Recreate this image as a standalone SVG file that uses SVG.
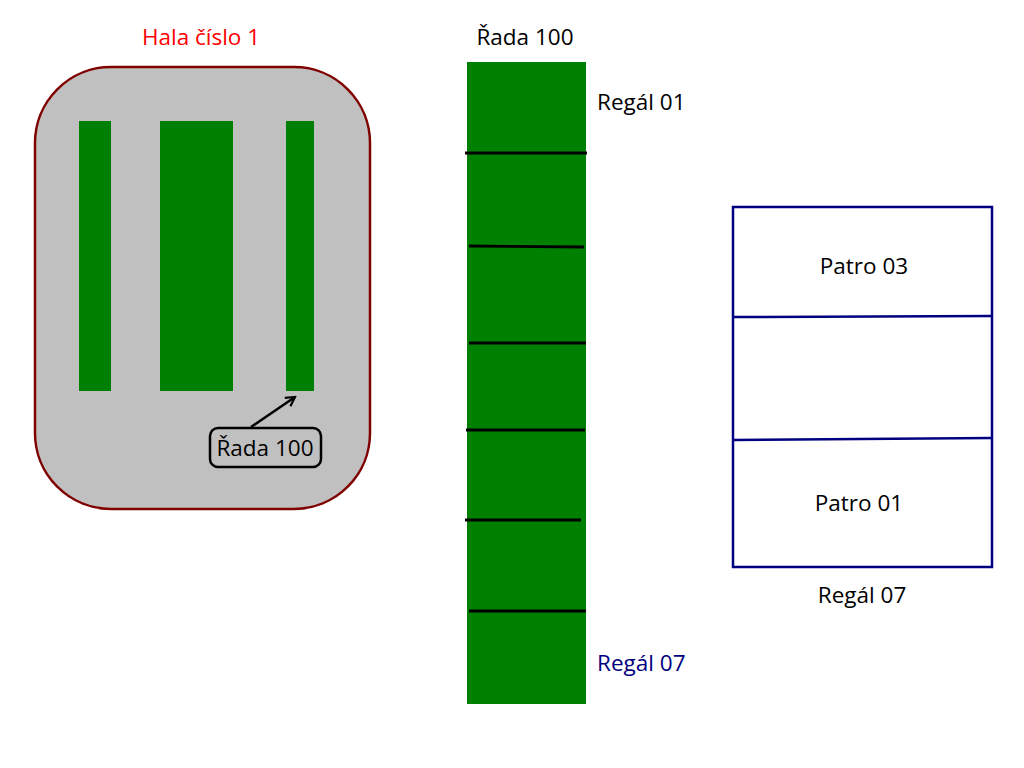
<svg xmlns="http://www.w3.org/2000/svg" width="1024" height="768" viewBox="0 0 1024 768">
<defs>
<style>
text{font-family:"Open Sans","Noto Sans","DejaVu Sans",sans-serif;font-size:22.5px;fill:#000}
.g{fill:#008000}
.sep{stroke:#000;stroke-width:2.8;fill:none}
.blue{stroke:#000080;stroke-width:2.5;fill:none}
</style>
<marker id="ah" viewBox="0 0 12 12" refX="10" refY="6" markerWidth="12" markerHeight="12" markerUnits="userSpaceOnUse" orient="auto">
<path d="M1,1 L10,6 L1,11" fill="none" stroke="#000" stroke-width="2.2"/>
</marker>
</defs>
<rect width="1024" height="768" fill="#fff"/>
<g id="hall">
<text x="201" y="45" text-anchor="middle" style="fill:#ff0000">Hala číslo 1</text>
<rect x="35" y="67" width="335" height="442" rx="76" ry="76" fill="#c0c0c0" stroke="#800000" stroke-width="2.5"/>
<rect class="g" x="79" y="121" width="32" height="270"/>
<rect class="g" x="160" y="121" width="73" height="270"/>
<rect class="g" x="286" y="121" width="28" height="270"/>
</g>
<g id="callout">
<rect x="210" y="428" width="111" height="39" rx="8" ry="8" fill="none" stroke="#000" stroke-width="2.5"/>
<text x="265" y="456" text-anchor="middle">Řada 100</text>
</g>
<g id="connectors">
<line x1="251" y1="427" x2="295" y2="397" stroke="#000" stroke-width="2.5" marker-end="url(#ah)"/>
</g>
<g id="row">
<text x="525" y="45" text-anchor="middle">Řada 100</text>
<rect class="g" x="467" y="62" width="119" height="642"/>
<line class="sep" x1="465" y1="153" x2="587" y2="153"/>
<line class="sep" x1="469" y1="246" x2="584" y2="247"/>
<line class="sep" x1="469" y1="343" x2="586" y2="343"/>
<line class="sep" x1="466" y1="430" x2="585" y2="430"/>
<line class="sep" x1="465" y1="520" x2="581" y2="520"/>
<line class="sep" x1="469" y1="611" x2="586" y2="611"/>
<text x="597" y="110">Regál 01</text>
<text x="597" y="671" style="fill:#000080">Regál 07</text>
</g>
<g id="rack">
<rect class="blue" x="733" y="207" width="259" height="360" fill="#fff"/>
<line class="blue" x1="733" y1="317" x2="992" y2="316"/>
<line class="blue" x1="733" y1="440" x2="992" y2="438"/>
<text x="864" y="274" text-anchor="middle">Patro 03</text>
<text x="859" y="511" text-anchor="middle">Patro 01</text>
<text x="862" y="603" text-anchor="middle">Regál 07</text>
</g>
</svg>
